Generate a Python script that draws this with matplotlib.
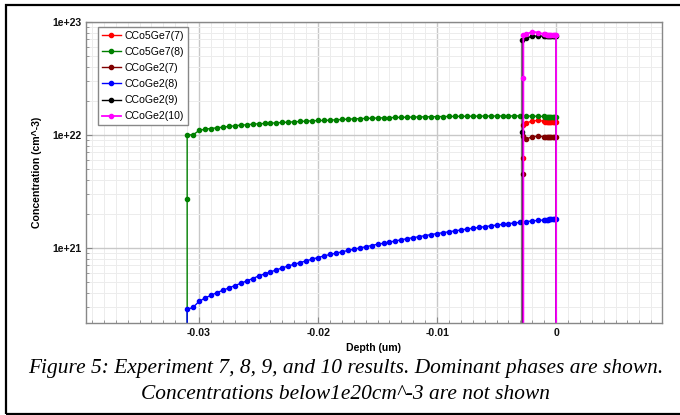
import numpy as np
import matplotlib
matplotlib.use("Agg")
import matplotlib.pyplot as plt
from matplotlib.patches import Rectangle
from matplotlib.ticker import FixedLocator, MultipleLocator, LogLocator, FuncFormatter, NullFormatter

# --- data (depth in um, concentration in cm^-3) ---
LOW = 1e18  # stands for "below 1e20, not shown"

# regular depth grid of the simulation output
sparse_depth = np.round(np.arange(-0.031, -0.0014, 0.0005), 5)
dense_depth = np.round(np.arange(-0.0010, 0.00001, 0.0001), 5)
tail_depth = [-0.0025, -0.0020, -0.0015]

green_vals = [1.00e22, 1.00e22, 1.093e22, 1.123e22, 1.138e22, 1.154e22, 1.170e22,
              1.186e22, 1.202e22, 1.219e22, 1.227e22, 1.244e22, 1.252e22, 1.261e22,
              1.269e22, 1.278e22, 1.287e22, 1.296e22, 1.305e22, 1.313e22, 1.323e22,
              1.331e22, 1.340e22, 1.340e22, 1.349e22, 1.359e22, 1.368e22, 1.377e22,
              1.385e22, 1.392e22, 1.398e22, 1.404e22, 1.410e22, 1.415e22, 1.420e22,
              1.425e22, 1.429e22, 1.433e22, 1.437e22, 1.441e22, 1.444e22, 1.447e22,
              1.450e22, 1.453e22, 1.455e22, 1.457e22, 1.459e22, 1.461e22, 1.463e22,
              1.465e22, 1.466e22, 1.467e22, 1.468e22, 1.469e22, 1.470e22, 1.471e22,
              1.472e22, 1.470e22, 1.465e22, 1.460e22]
green_dense = [1.455e22, 1.450e22, 1.448e22, 1.446e22, 1.445e22, 1.445e22,
               1.444e22, 1.444e22, 1.444e22, 1.443e22, 1.443e22]

blue_vals = [2.84e20, 2.96e20, 3.34e20, 3.58e20, 3.78e20, 4.00e20, 4.19e20, 4.40e20,
             4.61e20, 4.83e20, 5.07e20, 5.32e20, 5.61e20, 5.85e20, 6.10e20, 6.35e20,
             6.62e20, 6.89e20, 7.13e20, 7.38e20, 7.64e20, 7.91e20, 8.18e20, 8.45e20,
             8.71e20, 8.93e20, 9.18e20, 9.44e20,
             9.68e20, 9.93e20, 1.019e21, 1.045e21, 1.072e21, 1.096e21, 1.122e21,
             1.148e21, 1.175e21, 1.202e21, 1.227e21, 1.253e21, 1.279e21, 1.306e21,
             1.334e21, 1.358e21, 1.384e21, 1.409e21, 1.435e21, 1.462e21, 1.486e21,
             1.510e21, 1.535e21, 1.560e21, 1.585e21, 1.611e21, 1.633e21, 1.656e21,
             1.679e21, 1.702e21, 1.726e21, 1.746e21]
blue_dense = [1.760e21, 1.768e21, 1.772e21, 1.776e21, 1.778e21, 1.780e21,
              1.780e21, 1.780e21, 1.780e21, 1.780e21, 1.780e21]

# surface phases: edge depth, values on the step, tail values, dense values
red_edge = -0.0028
red_step = [6.2e21, 1.22e22]
red_tail = [1.27e22, 1.33e22, 1.34e22]
red_dense = [1.32e22, 1.31e22, 1.31e22, 1.31e22, 1.31e22, 1.31e22,
             1.31e22, 1.31e22, 1.31e22, 1.31e22, 1.31e22]

dred_edge = -0.0028
dred_step = [4.5e21, 9.8e21]
dred_tail = [9.16e21, 9.66e21, 9.70e21]
dred_dense = [9.65e21, 9.6e21, 9.6e21, 9.6e21, 9.6e21, 9.6e21,
              9.6e21, 9.6e21, 9.6e21, 9.6e21, 9.6e21]

black_edge = -0.00285
black_step = [1.07e22, 6.9e22]
black_tail = [7.2e22, 7.5e22, 7.5e22]
black_dense = [7.5e22] * 11

mag_edge = -0.00275
mag_step = [3.2e22, 7.6e22]
mag_tail = [7.8e22, 8.2e22, 8.05e22]
mag_dense = [7.8e22, 7.75e22, 7.7e22, 7.7e22, 7.7e22, 7.7e22,
             7.7e22, 7.7e22, 7.7e22, 7.7e22, 7.7e22]

labels = ["CCo5Ge7(7)", "CCo5Ge7(8)", "CCoGe2(7)", "CCoGe2(8)", "CCoGe2(9)", "CCoGe2(10)"]
colors = ["#ff0000", "#008000", "#800000", "#0000ff", "#000000", "#ff00ff"]


def surface_series(edge, step, tail, dense):
    d = [edge] * (len(step) + 1) + tail_depth + list(dense_depth) + [0.0]
    v = [LOW] + step + tail + dense + [LOW]
    return d, v


green_d = [-0.031, -0.031] + list(sparse_depth) + list(dense_depth) + [0.0]
green_v = [LOW, 2.7e21] + green_vals + green_dense + [LOW]
blue_d = [-0.031] + list(sparse_depth) + list(dense_depth) + [0.0]
blue_v = [LOW] + blue_vals + blue_dense + [LOW]

series = [
    surface_series(red_edge, red_step, red_tail, red_dense),
    (green_d, green_v),
    surface_series(dred_edge, dred_step, dred_tail, dred_dense),
    (blue_d, blue_v),
    surface_series(black_edge, black_step, black_tail, black_dense),
    surface_series(mag_edge, mag_step, mag_tail, mag_dense),
]

# --- figure ---
fig = plt.figure(figsize=(6.8, 4.15), dpi=100)
ax = fig.add_axes([86 / 680, 1 - 323 / 415, 576 / 680, 301 / 415])

for (d, v), lab, col in zip(series, labels, colors):
    lw = 1.3 if col == "#ff00ff" else 1.0
    ax.plot(d, v, color=col, lw=lw, marker="o", ms=3.0, mec=col, label=lab)

ax.set_yscale("log")
ax.set_xlim(-0.0395, 0.0089)
ax.set_ylim(2.15e20, 1e23)

ax.xaxis.set_major_locator(FixedLocator([-0.03, -0.02, -0.01, 0.0]))
ax.xaxis.set_minor_locator(MultipleLocator(0.001))
ax.xaxis.set_major_formatter(FuncFormatter(lambda x, p: "0" if abs(x) < 1e-9 else f"{x:.2f}"))
ax.yaxis.set_major_locator(LogLocator(base=10, numticks=10))
ax.yaxis.set_minor_locator(LogLocator(base=10, subs=np.arange(2, 10), numticks=10))
ax.yaxis.set_major_formatter(FuncFormatter(lambda y, p: f"{y:.0e}"))
ax.yaxis.set_minor_formatter(NullFormatter())

ax.grid(which="major", color="#c8c8c8", lw=1.0)
ax.grid(which="minor", color="#ececec", lw=0.7)
ax.set_axisbelow(True)

ax.tick_params(which="both", direction="in", colors="#888888", labelcolor="#111111",
               labelsize=7.6)
ax.tick_params(which="major", length=4)
ax.tick_params(which="minor", length=2.5)
for lbl in ax.get_xticklabels() + ax.get_yticklabels():
    lbl.set_fontfamily("Liberation Sans")
    lbl.set_fontweight("bold")
for sp in ax.spines.values():
    sp.set_color("#888888")
    sp.set_linewidth(1.0)

ax.set_xlabel("Depth (um)", fontsize=7.6, fontweight="bold", family="Liberation Sans",
              labelpad=4)
ax.set_ylabel("Concentration (cm^-3)", fontsize=7.6, fontweight="bold",
              family="Liberation Sans", labelpad=7)

leg = ax.legend(loc="upper left", bbox_to_anchor=(0.0208, 0.983), borderaxespad=0,
                prop={"family": "Liberation Sans", "size": 7.6}, fancybox=False,
                framealpha=1, edgecolor="#888888", handlelength=1.8,
                handletextpad=0.4, labelspacing=0.58, borderpad=0.35)
leg.get_frame().set_linewidth(1.0)

# caption
cap_font = dict(family="Liberation Serif", style="italic", size=15.4, ha="center",
                va="center", color="black")
fig.text(0.508, 1 - 368 / 415, "Figure 5: Experiment 7, 8, 9, and 10 results. Dominant phases are shown.",
         **cap_font)
fig.text(0.508, 1 - 394 / 415, "Concentrations below1e20cm^-3 are not shown", **cap_font)

# outer frame of the figure box
fig.patches.append(Rectangle((6 / 680, 1.5 / 415), 1.2, 1 - 6.5 / 415, transform=fig.transFigure,
                             fill=False, edgecolor="black", lw=1.6, clip_on=False))

fig.savefig("out.png", dpi=100)
